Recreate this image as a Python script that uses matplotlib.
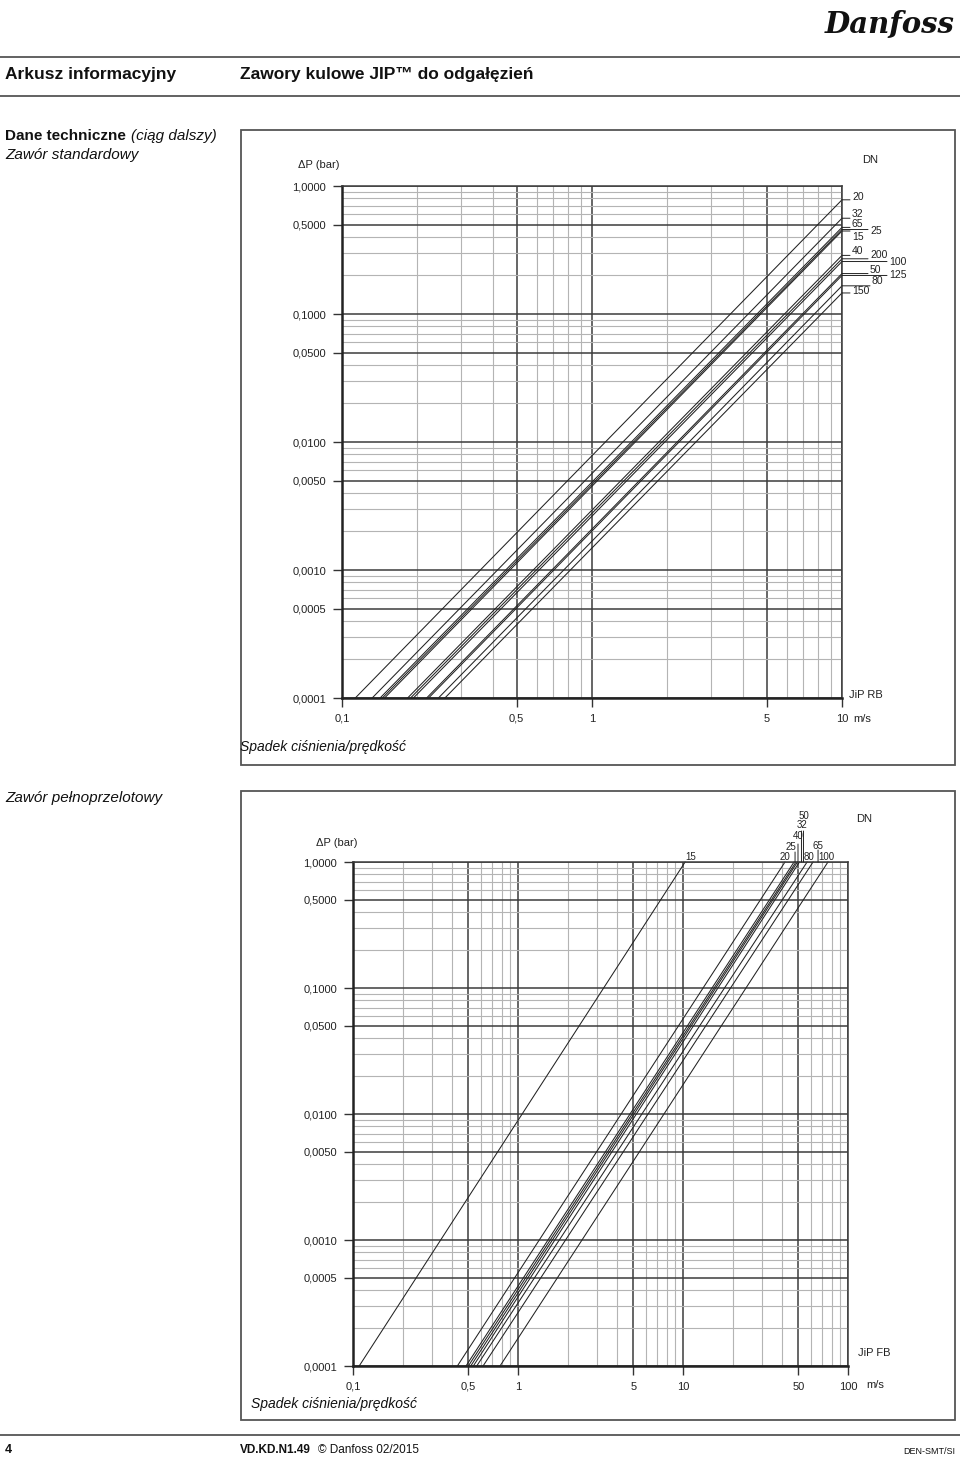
import matplotlib
matplotlib.use('Agg')
import matplotlib.pyplot as plt
from matplotlib.lines import Line2D
from matplotlib.patches import Rectangle
from matplotlib.transforms import offset_copy

W, H = 960, 1458

# Zawór standardowy (JiP RB): prędkość przy 0,0001 bar i spadek przy 10 m/s
rb_dn = ['20', '32', '65', '25', '15', '40', '200', '100', '50', '125', '80', '150']
rb_v_min = [0.113, 0.132, 0.142, 0.145, 0.148, 0.183, 0.188, 0.193, 0.218, 0.222, 0.243, 0.258]
rb_dp_max = [0.78, 0.56, 0.475, 0.457, 0.445, 0.287, 0.27, 0.257, 0.207, 0.2, 0.166, 0.146]

# Zawór pełnoprzelotowy (JiP FB): prędkość przy 0,0001 bar i przy 1 bar
fb_dn = ['15', '20', '25', '40', '32', '50', '80', '65', '100']
fb_v_min = [0.109, 0.429, 0.484, 0.500, 0.517, 0.536, 0.562, 0.614, 0.778]
fb_v_max = [10.3, 41.5, 47.1, 48.4, 49.4, 50.8, 56.5, 61.4, 75.6]

y_major = [1, 0.5, 0.1, 0.05, 0.01, 0.005, 0.001, 0.0005, 0.0001]
y_labels = ['1,0000', '0,5000', '0,1000', '0,0500', '0,0100', '0,0050', '0,0010', '0,0005', '0,0001']
rb_x_major = [0.1, 0.5, 1, 5, 10]
rb_x_labels = ['0,1', '0,5', '1', '5', '10']
fb_x_major = [0.1, 0.5, 1, 5, 10, 50, 100]
fb_x_labels = ['0,1', '0,5', '1', '5', '10', '50', '100']

# odnośniki etykiet DN (długość w px, przesunięcie tekstu w pionie px)
rb_label_pos = {'20': (8, 3), '32': (8, 4), '65': (8, 3), '25': (26, -1), '15': (8, -6),
                '40': (8, 4), '200': (26, 4), '100': (45, 0), '50': (26, 4), '125': (45, 0),
                '80': (28, 5), '150': (8, 2)}
# (dx tekstu, dy tekstu, x odnośnika, długość odnośnika) w px
fb_label_pos = {'15': (6, 5, 0, 0), '20': (0, 5, 0, 0), '25': (-3, 15, 1, 10), '40': (2, 26, 2, 18),
                '32': (5, 37, 4, 31), '50': (4, 46, 4, 31), '80': (2, 5, 0, 0),
                '65': (5, 16, 5, 12), '100': (-2, 5, 0, 0)}

FONT = ['Liberation Sans', 'DejaVu Sans']
plt.rcParams['font.family'] = FONT

fig = plt.figure(figsize=(W / 100, H / 100), dpi=100)


def fx(x):
    return x / W


def fy(y):
    return 1 - y / H


def minory(lo, hi):
    wynik = []
    e = lo
    while e < hi:
        for m in (2, 3, 4, 6, 7, 8, 9):
            wynik.append(m * e)
        e *= 10
    return [v for v in wynik if lo < v < hi]


def siatka(left, top, right, bottom, xmin, xmax, x_major, x_labels):
    ax = fig.add_axes([fx(left), fy(bottom), fx(right - left), (bottom - top) / H])
    ax.set_xscale('log')
    ax.set_yscale('log')
    ax.set_xlim(xmin, xmax)
    ax.set_ylim(1e-4, 1)
    ax.set_xticks(x_major, x_labels)
    ax.set_xticks(minory(xmin, xmax), minor=True)
    ax.set_yticks(y_major, y_labels)
    ax.set_yticks(minory(1e-4, 1), minor=True)
    ax.xaxis.set_minor_formatter(plt.NullFormatter())
    ax.yaxis.set_minor_formatter(plt.NullFormatter())
    ax.grid(which='minor', color='#b4b4b4', lw=0.8)
    ax.grid(which='major', color='#3c3c3c', lw=1.1)
    ax.set_axisbelow(True)
    ax.tick_params(which='minor', length=0)
    ax.tick_params(which='major', direction='out', length=6.5, width=1.0, color='#333333',
                   labelsize=8, pad=5, labelcolor='#222222')
    for s in ('top', 'right'):
        ax.spines[s].set_linewidth(1.1)
        ax.spines[s].set_color('#3c3c3c')
    for s in ('left', 'bottom'):
        ax.spines[s].set_linewidth(1.8)
        ax.spines[s].set_color('#222222')
    return ax


def odnosnik(ax, x, y, x0, y0, x1, y1):
    t0 = offset_copy(ax.transData, fig=fig, x=x0, y=y0, units='dots')
    t1 = offset_copy(ax.transData, fig=fig, x=x1, y=y1, units='dots')
    ax.annotate('', xy=(x, y), xycoords=t0, xytext=(x, y), textcoords=t1,
                arrowprops=dict(arrowstyle='-', shrinkA=0, shrinkB=0, lw=0.7, color='#222222'),
                annotation_clip=False)


# ---------- wykres 1: zawór standardowy ----------
ax1 = siatka(342, 186, 842, 698, 0.1, 10, rb_x_major, rb_x_labels)
for dn, v0, dp in zip(rb_dn, rb_v_min, rb_dp_max):
    ax1.plot([v0, 10], [1e-4, dp], color='#222222', lw=0.75, clip_on=False)
    dl, dy = rb_label_pos[dn]
    odnosnik(ax1, 10, dp, 0, 0, dl, 0)
    ax1.annotate(dn, xy=(10, dp), xytext=(dl + 2, dy), textcoords='offset pixels',
                 fontsize=7.5, ha='left', va='center', color='#222222', annotation_clip=False)

# ---------- wykres 2: zawór pełnoprzelotowy ----------
ax2 = siatka(353, 862, 848, 1366, 0.1, 100, fb_x_major, fb_x_labels)
for dn, v0, v1 in zip(fb_dn, fb_v_min, fb_v_max):
    ax2.plot([v0, v1], [1e-4, 1], color='#222222', lw=0.75, clip_on=False)
    dx, dy, lx, ll = fb_label_pos[dn]
    if ll:
        odnosnik(ax2, v1, 1, lx, 0, lx, ll)
    ax2.annotate(dn, xy=(v1, 1), xytext=(dx, dy), textcoords='offset pixels',
                 fontsize=7, ha='center', va='center', color='#222222', annotation_clip=False)

# ---------- elementy strony ----------
kolor_ramki = '#555555'
for y in (57, 96, 1435):
    fig.add_artist(Line2D([0, 1], [fy(y), fy(y)], transform=fig.transFigure, color=kolor_ramki, lw=1.3))
for (l, t, r, b) in ((241, 130, 955, 765), (241, 791, 955, 1420)):
    fig.add_artist(Rectangle((fx(l), fy(b)), fx(r - l), (b - t) / H, transform=fig.transFigure,
                             fill=False, ec=kolor_ramki, lw=1.3))

fig.text(fx(955), fy(25), 'Danfoss', ha='right', va='center', fontsize=21, fontstyle='italic',
         fontweight='bold', family=['DejaVu Serif'], color='#111111')
fig.text(fx(5), fy(75), 'Arkusz informacyjny', ha='left', va='center', fontsize=12.5,
         fontweight='bold', color='#111111')
fig.text(fx(240), fy(75), 'Zawory kulowe JIP™ do odgałęzień', ha='left', va='center', fontsize=12.5,
         fontweight='bold', color='#111111')
fig.text(fx(5), fy(136), 'Dane techniczne', ha='left', va='center', fontsize=11,
         fontweight='bold', color='#111111')
fig.text(fx(131), fy(136), '(ciąg dalszy)', ha='left', va='center', fontsize=11,
         fontstyle='italic', color='#111111')
fig.text(fx(5), fy(155), 'Zawór standardowy', ha='left', va='center', fontsize=11,
         fontstyle='italic', color='#111111')
fig.text(fx(5), fy(798), 'Zawór pełnoprzelotowy', ha='left', va='center', fontsize=11,
         fontstyle='italic', color='#111111')

# opisy osi wykresu 1
fig.text(fx(319), fy(165), 'ΔP (bar)', ha='center', va='center', fontsize=8, color='#222222')
fig.text(fx(870), fy(160), 'DN', ha='center', va='center', fontsize=8, color='#222222')
fig.text(fx(866), fy(695), 'JiP RB', ha='center', va='center', fontsize=8, color='#222222')
fig.text(fx(853), fy(719), 'm/s', ha='left', va='center', fontsize=8, color='#222222')
fig.text(fx(240), fy(747), 'Spadek ciśnienia/prędkość', ha='left', va='center', fontsize=10,
         fontstyle='italic', color='#111111')

# opisy osi wykresu 2
fig.text(fx(337), fy(843), 'ΔP (bar)', ha='center', va='center', fontsize=8, color='#222222')
fig.text(fx(864), fy(819), 'DN', ha='center', va='center', fontsize=8, color='#222222')
fig.text(fx(874), fy(1353), 'JiP FB', ha='center', va='center', fontsize=8, color='#222222')
fig.text(fx(866), fy(1385), 'm/s', ha='left', va='center', fontsize=8, color='#222222')
fig.text(fx(251), fy(1404), 'Spadek ciśnienia/prędkość', ha='left', va='center', fontsize=10,
         fontstyle='italic', color='#111111')

# stopka
fig.text(fx(5), fy(1450), '4', ha='left', va='center', fontsize=9, fontweight='bold', color='#111111')
fig.text(fx(240), fy(1450), 'VD.KD.N1.49', ha='left', va='center', fontsize=8.5, fontweight='bold',
         color='#111111')
fig.text(fx(318), fy(1450), '© Danfoss 02/2015', ha='left', va='center', fontsize=8.5,
         color='#111111')
fig.text(fx(955), fy(1451), 'DEN-SMT/SI', ha='right', va='center', fontsize=6.5,
         color='#111111')

fig.savefig('out.png', dpi=100)
